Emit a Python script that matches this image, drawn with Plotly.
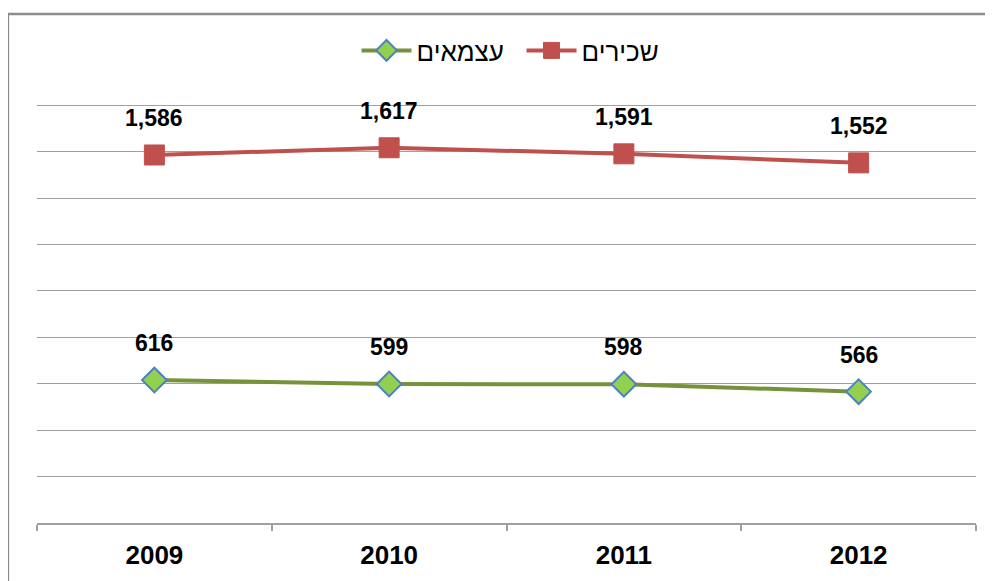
import plotly.graph_objects as go

years = ["2009", "2010", "2011", "2012"]
employees = [1586, 1617, 1591, 1552]
self_employed = [616, 599, 598, 566]
name_employees = "שכירים"
name_self = "עצמאים"
y_ticks = [0, 200, 400, 600, 800, 1000, 1200, 1400, 1600, 1800]

FONT = "Liberation Sans, Arial"

fig = go.Figure()
fig.add_trace(go.Scatter(
    x=years, y=self_employed, name=name_self, mode="lines+markers",
    line=dict(color="#76923C", width=4),
    marker=dict(symbol="diamond", size=19, color="#92D050",
                line=dict(color="#4F81BD", width=2)),
    legendrank=1,
))
fig.add_trace(go.Scatter(
    x=years, y=employees, name=name_employees, mode="lines+markers",
    line=dict(color="#C0504D", width=4),
    marker=dict(symbol="square", size=20, color="#C0504D",
                line=dict(color="#C0504D", width=1)),
    legendrank=2,
))

for series in (employees, self_employed):
    for i, yv in enumerate(series):
        fig.add_annotation(x=i, y=yv, xref="x", yref="y", text=f"<b>{yv:,}</b>",
                           showarrow=False, yshift=37,
                           font=dict(size=23, color="#000000", family=FONT),
                           xanchor="center", yanchor="middle")

# outer chart border
fig.add_shape(type="rect", xref="paper", yref="paper",
              x0=-0.031, x1=1.04, y0=-0.25, y1=1.212,
              line=dict(color="#8C8C8C", width=2.5), layer="below")

fig.update_layout(
    width=985, height=573,
    margin=dict(l=29, r=17, t=95, b=58),
    paper_bgcolor="white", plot_bgcolor="white",
    font=dict(family=FONT, color="#000000"),
    showlegend=True,
    legend=dict(orientation="h", x=0.516, xanchor="center", y=1.125, yanchor="middle",
                font=dict(size=26, family=FONT),
                itemwidth=50, entrywidth=100, entrywidthmode="pixels",
                bgcolor="rgba(0,0,0,0)"),
    xaxis=dict(type="category", showgrid=False, showline=True, linecolor="#A0A0A0",
               linewidth=1.5, ticks="outside", tickson="boundaries", ticklen=6,
               tickcolor="#A0A0A0", tickwidth=1.5, ticklabelstandoff=8,
               tickfont=dict(size=26, family=FONT, weight="bold"),
               range=[-0.5, 3.5]),
    yaxis=dict(range=[0, 1810], tickvals=y_ticks, showticklabels=False,
               showgrid=True, gridcolor="#A0A0A0", gridwidth=1,
               zeroline=False, showline=False),
)

fig.write_html("out.html")
